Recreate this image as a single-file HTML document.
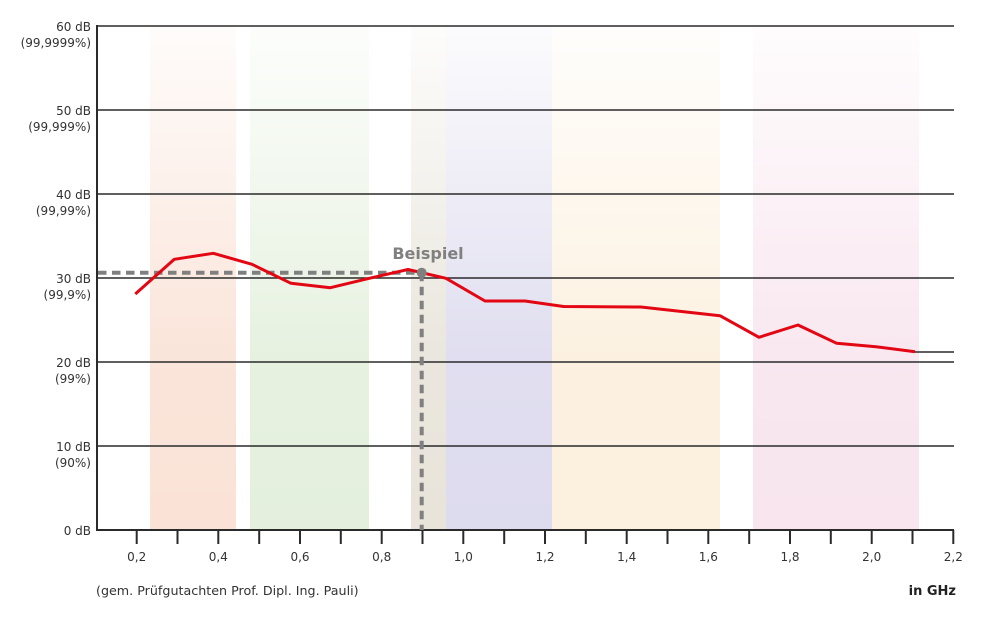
<!DOCTYPE html>
<html><head><meta charset="utf-8"><style>
html,body{margin:0;padding:0;background:#fff;}
svg{display:block;}
text{font-family:"DejaVu Sans","Liberation Sans",sans-serif;}
</style></head><body>
<svg width="1000" height="630" viewBox="0 0 1000 630" xmlns="http://www.w3.org/2000/svg">
<defs>
<linearGradient id="fade" x1="0" y1="0" x2="0" y2="1">
<stop offset="0" stop-color="#fff" stop-opacity="0.9"/>
<stop offset="0.65" stop-color="#fff" stop-opacity="0.1"/>
<stop offset="1" stop-color="#fff" stop-opacity="0"/>
</linearGradient>
</defs>
<rect width="1000" height="630" fill="#fff"/>
<!-- bands -->
<rect x="150" y="26" width="86" height="504" fill="#fae2d6"/>
<rect x="250" y="26" width="119" height="504" fill="#e4f0dd"/>
<rect x="411" y="26" width="35" height="504" fill="#e8e4da"/>
<rect x="446" y="26" width="106" height="504" fill="#dddbee"/>
<rect x="552" y="26" width="168" height="504" fill="#fcf0de"/>
<rect x="753" y="26" width="166" height="504" fill="#f8e5ee"/>
<rect x="140" y="26" width="790" height="504" fill="url(#fade)"/>
<!-- grid -->
<g stroke="#2a2a2a" stroke-width="1.5">
<line x1="97" y1="26" x2="954" y2="26"/>
<line x1="97" y1="110" x2="954" y2="110"/>
<line x1="97" y1="194" x2="954" y2="194"/>
<line x1="97" y1="278" x2="954" y2="278"/>
<line x1="97" y1="362" x2="954" y2="362"/>
<line x1="97" y1="446" x2="954" y2="446"/>
<line x1="97" y1="530" x2="954" y2="530" stroke-width="2"/>
<line x1="97" y1="25" x2="97" y2="531" stroke-width="2"/>
<line x1="915" y1="352" x2="954" y2="352"/>
</g>
<!-- ticks -->
<g stroke="#2a2a2a" stroke-width="2">
<line x1="136.7" y1="530" x2="136.7" y2="544"/>
<line x1="177.5" y1="530" x2="177.5" y2="544"/>
<line x1="218.3" y1="530" x2="218.3" y2="544"/>
<line x1="259.2" y1="530" x2="259.2" y2="544"/>
<line x1="300" y1="530" x2="300" y2="544"/>
<line x1="340.8" y1="530" x2="340.8" y2="544"/>
<line x1="381.7" y1="530" x2="381.7" y2="544"/>
<line x1="422.5" y1="530" x2="422.5" y2="544"/>
<line x1="463.3" y1="530" x2="463.3" y2="544"/>
<line x1="504.2" y1="530" x2="504.2" y2="544"/>
<line x1="545" y1="530" x2="545" y2="544"/>
<line x1="585.8" y1="530" x2="585.8" y2="544"/>
<line x1="626.7" y1="530" x2="626.7" y2="544"/>
<line x1="667.5" y1="530" x2="667.5" y2="544"/>
<line x1="708.3" y1="530" x2="708.3" y2="544"/>
<line x1="749.2" y1="530" x2="749.2" y2="544"/>
<line x1="790" y1="530" x2="790" y2="544"/>
<line x1="830.8" y1="530" x2="830.8" y2="544"/>
<line x1="871.7" y1="530" x2="871.7" y2="544"/>
<line x1="912.5" y1="530" x2="912.5" y2="544"/>
<line x1="953.3" y1="530" x2="953.3" y2="544"/>
</g>
<!-- x labels -->
<g font-size="12" fill="#333" text-anchor="middle">
<text x="136.7" y="561">0,2</text>
<text x="218.3" y="561">0,4</text>
<text x="300" y="561">0,6</text>
<text x="381.7" y="561">0,8</text>
<text x="463.3" y="561">1,0</text>
<text x="545" y="561">1,2</text>
<text x="626.7" y="561">1,4</text>
<text x="708.3" y="561">1,6</text>
<text x="790" y="561">1,8</text>
<text x="871.7" y="561">2,0</text>
<text x="953.3" y="561">2,2</text>
</g>
<!-- y labels -->
<g font-size="12" fill="#333" text-anchor="end">
<text x="91" y="31">60 dB</text><text x="91" y="47">(99,9999%)</text>
<text x="91" y="115">50 dB</text><text x="91" y="131">(99,999%)</text>
<text x="91" y="199">40 dB</text><text x="91" y="215">(99,99%)</text>
<text x="91" y="283">30 dB</text><text x="91" y="299">(99,9%)</text>
<text x="91" y="367">20 dB</text><text x="91" y="383">(99%)</text>
<text x="91" y="451">10 dB</text><text x="91" y="467">(90%)</text>
<text x="91" y="535">0 dB</text>
</g>
<text x="96" y="595" font-size="12.7" fill="#333">(gem. Prüfgutachten Prof. Dipl. Ing. Pauli)</text>
<text x="956" y="595" font-size="13" font-weight="bold" fill="#222" text-anchor="end">in GHz</text>
<!-- dashed example lines -->
<g stroke="#808080" stroke-width="4" fill="none">
<line x1="98" y1="272.7" x2="421.7" y2="272.7" stroke-dasharray="8.5,5.5"/>
<line x1="421.7" y1="272.7" x2="421.7" y2="530" stroke-dasharray="8.5,5.5"/>
</g>
<!-- red series -->
<polyline fill="none" stroke="#e30613" stroke-width="3" stroke-linejoin="round" points="135.3,294 174.3,259.3 213.3,253.3 252,264.3 291,283.3 330.3,287.7 369.3,278.3 408,269.5 446,278.3 485,301 525,301 563.5,306.5 641,307 720,315.7 759,337.3 798,325 836.7,343.3 876,346.7 915,351.7"/>
<circle cx="421.7" cy="272.7" r="5" fill="#808080"/>
<text x="428" y="259" font-size="16" font-weight="bold" fill="#808080" text-anchor="middle">Beispiel</text>
</svg>
</body></html>
